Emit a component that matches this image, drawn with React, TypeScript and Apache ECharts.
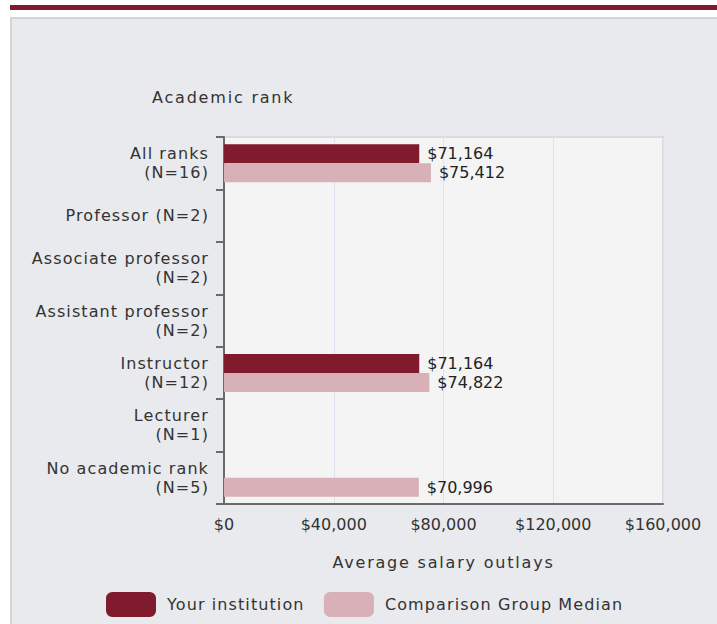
import React, { useEffect, useRef } from "react";
import * as echarts from "echarts";

const categories = [
  "All ranks\n(N=16)",
  "Professor (N=2)",
  "Associate professor\n(N=2)",
  "Assistant professor\n(N=2)",
  "Instructor\n(N=12)",
  "Lecturer\n(N=1)",
  "No academic rank\n(N=5)",
];
const yourInstitution: (number | null)[] = [71164, null, null, null, 71164, null, null];
const comparisonMedian: (number | null)[] = [75412, null, null, null, 74822, null, 70996];
const seriesNames = ["Your institution", "Comparison Group Median"];
const xTicks = { min: 0, max: 160000, interval: 40000 };

const FONT = "DejaVu Sans";
// same face, different fallback names so that CSS can widen letter spacing of word labels
const FONT_WIDE = "DejaVu Sans, Verdana";
const FONT_WIDER = "DejaVu Sans, Tahoma";
const DARK = "#801b2d";
const LIGHT = "#d8b0b7";

const money = (v: number) => "$" + v.toLocaleString("en-US");

export default function App() {
  const ref = useRef<HTMLDivElement>(null);
  useEffect(() => {
    if (!ref.current) return;
    const chart = echarts.init(ref.current, undefined, { renderer: "svg" });
    chart.setOption({
      animation: false,
      backgroundColor: "#ffffff",
      textStyle: { fontFamily: FONT },
      graphic: [
        { type: "rect", shape: { x: 10, y: 5, width: 707, height: 5 }, style: { fill: DARK } },
        {
          type: "rect",
          shape: { x: 11, y: 18, width: 720, height: 620 },
          style: { fill: "#e8eaed", stroke: "#d3d4d6", lineWidth: 2 },
          z: -10,
        },
        {
          type: "text",
          x: 152,
          y: 97,
          style: {
            text: "Academic rank",
            fontSize: 16,
            fontFamily: FONT_WIDER,
            fill: "#333333",
            verticalAlign: "middle",
          },
        },
      ],
      legend: {
        left: 106,
        top: 592,
        padding: 0,
        itemWidth: 50,
        itemHeight: 25,
        itemGap: 37,
        icon: "roundRect",
        textStyle: { fontSize: 16, color: "#333333", fontFamily: FONT_WIDE, padding: [0, 0, 0, 6] },
        data: seriesNames,
      },
      grid: {
        left: 224,
        right: 54,
        top: 137,
        bottom: 120,
        show: true,
        backgroundColor: "#f4f4f4",
        borderColor: "#dcdadf",
        borderWidth: 2,
        containLabel: false,
      },
      xAxis: {
        type: "value",
        min: xTicks.min,
        max: xTicks.max,
        interval: xTicks.interval,
        name: "Average salary outlays",
        nameLocation: "middle",
        nameGap: 50,
        nameTextStyle: { fontSize: 16, color: "#333333", fontFamily: FONT_WIDER },
        axisLine: { show: true, lineStyle: { color: "#6b6b6b", width: 2 } },
        axisTick: { show: false },
        axisLabel: { fontSize: 16, color: "#333333", margin: 12, formatter: (v: number) => money(v) },
        splitLine: { show: true, lineStyle: { color: "#dde2ef", width: 1 } },
      },
      yAxis: {
        type: "category",
        inverse: true,
        data: categories,
        axisLine: { show: true, lineStyle: { color: "#6b6b6b", width: 2 } },
        axisTick: { show: true, length: 8, lineStyle: { color: "#6b6b6b", width: 2 } },
        axisLabel: { fontSize: 16, color: "#333333", margin: 15, lineHeight: 19, fontFamily: FONT_WIDE },
        splitLine: { show: false },
      },
      series: [
        {
          name: seriesNames[0],
          type: "bar",
          data: yourInstitution,
          barWidth: 19,
          barGap: "0%",
          itemStyle: { color: DARK },
          label: {
            show: true,
            position: "right",
            distance: 8,
            fontSize: 16,
            color: "#222222",
            formatter: (p: any) => money(p.value),
          },
        },
        {
          name: seriesNames[1],
          type: "bar",
          data: comparisonMedian,
          barWidth: 19,
          barGap: "0%",
          itemStyle: { color: LIGHT },
          label: {
            show: true,
            position: "right",
            distance: 8,
            fontSize: 16,
            color: "#222222",
            formatter: (p: any) => money(p.value),
          },
        },
      ],
    });
    return () => chart.dispose();
  }, []);
  return (
    <>
      <style>{`
        #root text[style*="Verdana"] { letter-spacing: 1.1px; }
        #root text[style*="Tahoma"] { letter-spacing: 1.8px; }
      `}</style>
      <div
        ref={ref}
        style={{ position: "absolute", left: 0, top: 0, width: 717, height: 624 }}
      />
    </>
  );
}
